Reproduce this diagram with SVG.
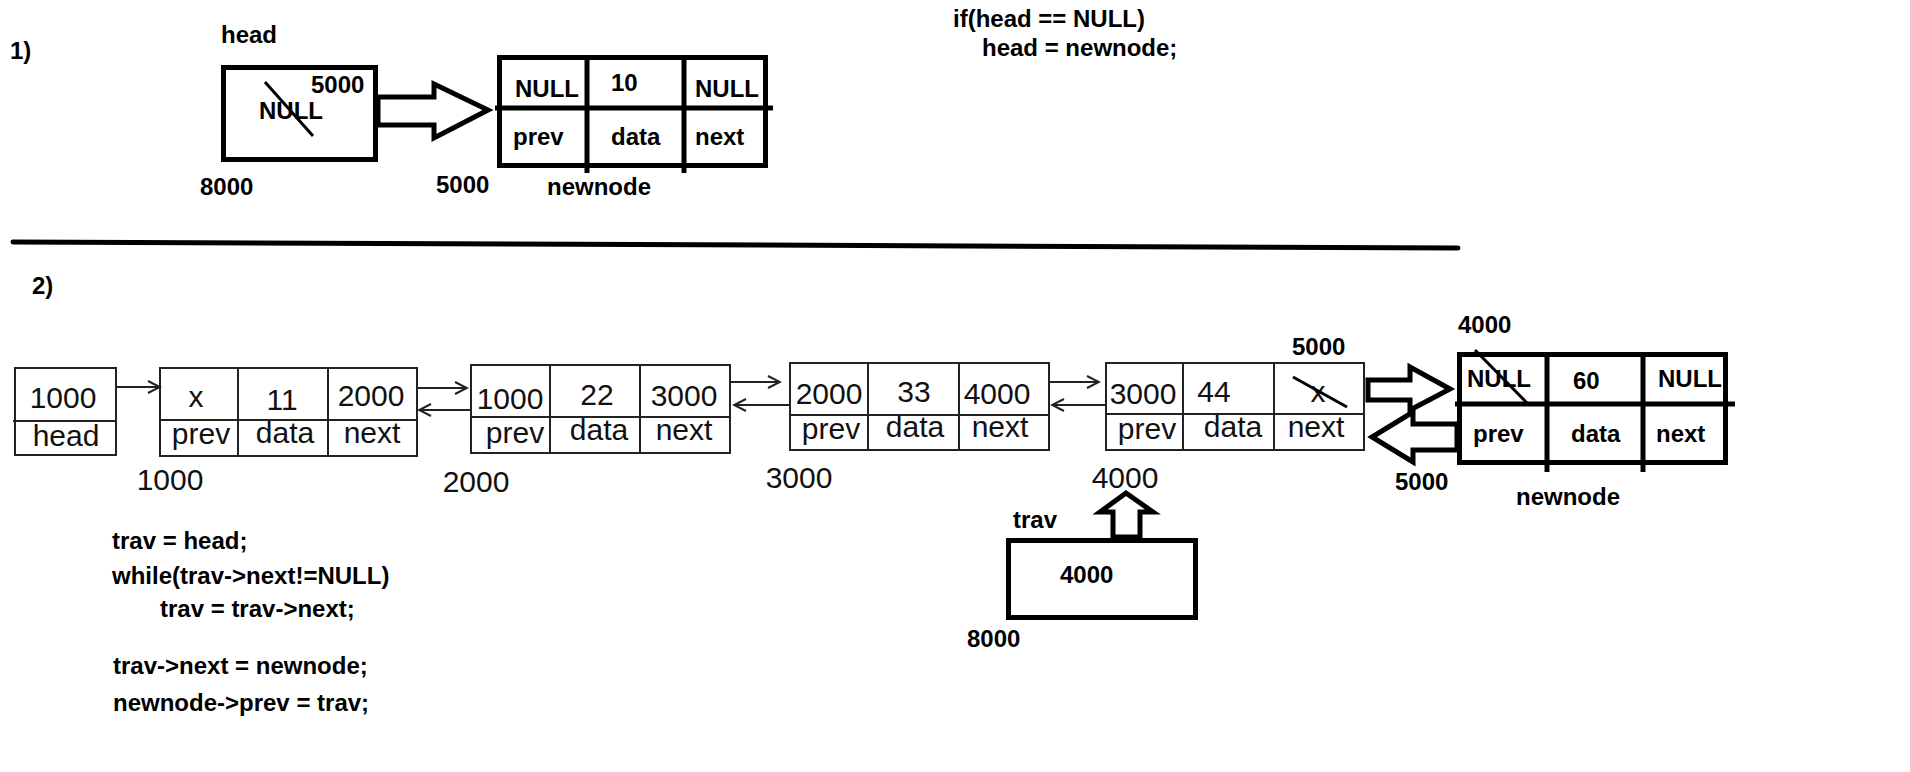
<svg xmlns="http://www.w3.org/2000/svg" width="1910" height="772" viewBox="0 0 1910 772">
<style>
.b{font-family:"Liberation Sans",Arial,sans-serif;font-weight:bold;font-size:24px;fill:#000}
.t{font-family:"Liberation Sans",Arial,sans-serif;font-size:30px;fill:#111;text-anchor:middle}
.thick{fill:#fff;stroke:#000;stroke-width:5}
.tl{stroke:#000;stroke-width:5;fill:none}
.thin{fill:#fff;stroke:#222;stroke-width:2}
.tn{stroke:#222;stroke-width:2;fill:none}
.conn{stroke:#222;stroke-width:2;fill:none;marker-end:url(#ah)}
.blk{fill:#fff;stroke:#000;stroke-width:5;stroke-linejoin:miter}
.strike{stroke:#000;stroke-width:3}
</style>
<defs>
<marker id="ah" markerUnits="userSpaceOnUse" markerWidth="16" markerHeight="16" viewBox="0 0 16 16" refX="14" refY="8" orient="auto">
<path d="M2,2 L14,8 L2,14" fill="none" stroke="#222" stroke-width="2"/>
</marker>
</defs>
<rect width="1910" height="772" fill="#fff"/>

<!-- Part 1 -->
<text class="b" x="10" y="59">1)</text>
<g id="p1-head">
<text class="b" x="221" y="43">head</text>
<rect class="thick" x="223.5" y="67.5" width="152" height="92"/>
<text class="b" x="311" y="93">5000</text>
<text class="b" x="259" y="119">NULL</text>
<line class="strike" x1="265" y1="82" x2="313" y2="136"/>
<text class="b" x="200" y="195">8000</text>
</g>
<g id="p1-newnode">
<rect class="thick" x="499.5" y="57.5" width="266" height="108"/>
<line class="tl" x1="495" y1="108" x2="773" y2="108"/>
<line class="tl" x1="587" y1="57" x2="587" y2="173"/>
<line class="tl" x1="684" y1="57" x2="684" y2="173"/>
<text class="b" x="515" y="97">NULL</text>
<text class="b" x="611" y="91">10</text>
<text class="b" x="695" y="97">NULL</text>
<text class="b" x="513" y="145">prev</text>
<text class="b" x="611" y="145">data</text>
<text class="b" x="695" y="145">next</text>
<text class="b" x="436" y="193">5000</text>
<text class="b" x="547" y="195">newnode</text>
</g>
<g id="p1-code">
<text class="b" x="953" y="27">if(head == NULL)</text>
<text class="b" x="982" y="56">head = newnode;</text>
</g>

<line id="separator" x1="13" y1="242" x2="1458" y2="248" stroke="#000" stroke-width="5" stroke-linecap="round"/>

<!-- Part 2 -->
<text class="b" x="32" y="294">2)</text>
<g id="p2-head">
<rect class="thin" x="15" y="368" width="101" height="87"/>
<line class="tn" x1="13" y1="421" x2="116" y2="421"/>
<text class="t" x="63" y="408">1000</text>
<text class="t" x="66" y="446">head</text>
</g>
<g id="node1000">
<rect class="thin" x="160" y="368" width="257" height="88"/>
<line class="tn" x1="160" y1="420" x2="417" y2="420"/>
<line class="tn" x1="238" y1="368" x2="238" y2="456"/>
<line class="tn" x1="328" y1="368" x2="328" y2="456"/>
<text class="t" x="196" y="407">x</text>
<text class="t" x="282" y="410">11</text>
<text class="t" x="371" y="406">2000</text>
<text class="t" x="201" y="444">prev</text>
<text class="t" x="285" y="443">data</text>
<text class="t" x="372" y="443">next</text>
<text class="t" x="170" y="490">1000</text>
</g>
<g id="node2000">
<rect class="thin" x="471" y="365" width="259" height="88"/>
<line class="tn" x1="471" y1="417" x2="730" y2="417"/>
<line class="tn" x1="550" y1="365" x2="550" y2="453"/>
<line class="tn" x1="640" y1="365" x2="640" y2="453"/>
<text class="t" x="510" y="409">1000</text>
<text class="t" x="597" y="405">22</text>
<text class="t" x="684" y="406">3000</text>
<text class="t" x="515" y="443">prev</text>
<text class="t" x="599" y="440">data</text>
<text class="t" x="684" y="440">next</text>
<text class="t" x="476" y="492">2000</text>
</g>
<g id="node3000">
<rect class="thin" x="790" y="363" width="259" height="87"/>
<line class="tn" x1="790" y1="415" x2="1049" y2="415"/>
<line class="tn" x1="868" y1="363" x2="868" y2="450"/>
<line class="tn" x1="959" y1="363" x2="959" y2="450"/>
<text class="t" x="829" y="404">2000</text>
<text class="t" x="914" y="402">33</text>
<text class="t" x="997" y="404">4000</text>
<text class="t" x="831" y="439">prev</text>
<text class="t" x="915" y="437">data</text>
<text class="t" x="1000" y="437">next</text>
<text class="t" x="799" y="488">3000</text>
</g>
<g id="node4000">
<rect class="thin" x="1106" y="363" width="258" height="87"/>
<line class="tn" x1="1106" y1="414" x2="1364" y2="414"/>
<line class="tn" x1="1183" y1="363" x2="1183" y2="450"/>
<line class="tn" x1="1274" y1="363" x2="1274" y2="450"/>
<text class="t" x="1143" y="404">3000</text>
<text class="t" x="1214" y="402">44</text>
<text class="t" x="1318" y="402">x</text>
<line class="strike" x1="1293" y1="377" x2="1347" y2="407"/>
<text class="t" x="1147" y="439">prev</text>
<text class="t" x="1233" y="437">data</text>
<text class="t" x="1316" y="437">next</text>
<text class="t" x="1125" y="488">4000</text>
<text class="b" x="1292" y="355">5000</text>
</g>
<g id="p2-newnode">
<text class="b" x="1458" y="333">4000</text>
<rect class="thick" x="1459.5" y="354.5" width="266" height="108"/>
<line class="tl" x1="1455" y1="404" x2="1735" y2="404"/>
<line class="tl" x1="1547" y1="354" x2="1547" y2="472"/>
<line class="tl" x1="1643" y1="354" x2="1643" y2="472"/>
<text class="b" x="1467" y="387" font-size="22">NULL</text>
<line class="strike" x1="1475" y1="350" x2="1527" y2="403"/>
<text class="b" x="1573" y="389" font-size="22">60</text>
<text class="b" x="1658" y="387" font-size="22">NULL</text>
<text class="b" x="1473" y="442" font-size="22">prev</text>
<text class="b" x="1571" y="442" font-size="22">data</text>
<text class="b" x="1656" y="442" font-size="22">next</text>
<text class="b" x="1395" y="490">5000</text>
<text class="b" x="1516" y="505">newnode</text>
</g>
<g id="trav">
<text class="b" x="1013" y="528">trav</text>
<rect class="thick" x="1008.5" y="540.5" width="187" height="77"/>
<text class="b" x="1060" y="583">4000</text>
<text class="b" x="967" y="647">8000</text>
</g>
<g id="p2-code">
<text class="b" x="112" y="549">trav = head;</text>
<text class="b" x="112" y="584">while(trav-&gt;next!=NULL)</text>
<text class="b" x="160" y="617">trav = trav-&gt;next;</text>
<text class="b" x="113" y="674">trav-&gt;next = newnode;</text>
<text class="b" x="113" y="711">newnode-&gt;prev = trav;</text>
</g>

<g id="connectors">
<polygon class="blk" points="378,97 434,97 434,84 488,110 434,138 434,125 378,125"/>
<line class="conn" x1="116" y1="387" x2="160" y2="387"/>
<line class="conn" x1="418" y1="388" x2="467" y2="388"/>
<line class="conn" x1="470" y1="410" x2="419" y2="410"/>
<line class="conn" x1="731" y1="382" x2="780" y2="382"/>
<line class="conn" x1="789" y1="405" x2="734" y2="405"/>
<line class="conn" x1="1049" y1="382" x2="1099" y2="382"/>
<line class="conn" x1="1105" y1="405" x2="1052" y2="405"/>
<polygon class="blk" points="1368,380 1410,380 1410,367 1450,389 1410,410 1410,400 1368,400"/>
<polygon class="blk" points="1457,424 1413,424 1413,412 1372,437 1413,462 1413,450 1457,450"/>
<polygon class="blk" stroke-width="4" points="1113,537 1113,512 1100,512 1126,493 1153,512 1140,512 1140,537"/>
</g>
</svg>
